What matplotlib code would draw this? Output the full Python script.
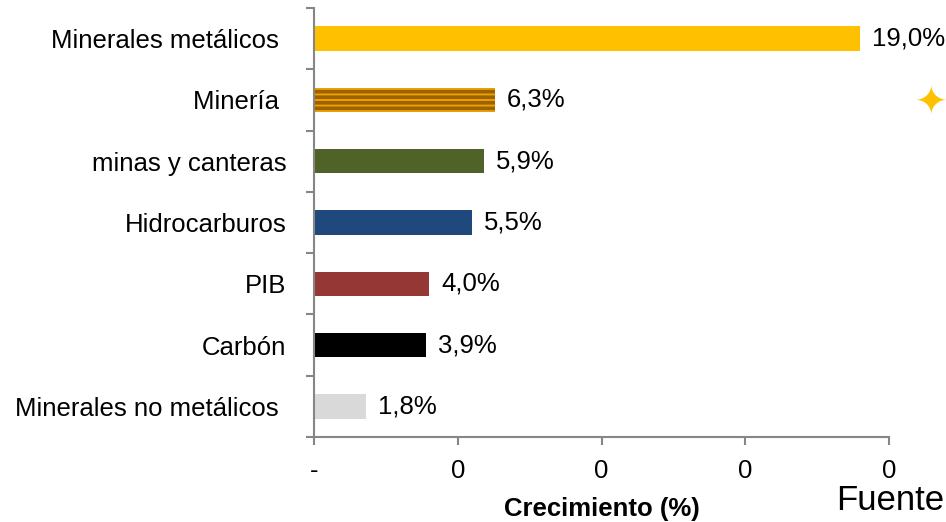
import numpy as np
import matplotlib.pyplot as plt

# datos
categorias = ['Minerales metálicos ', 'Minería ', 'minas y canteras', 'Hidrocarburos',
              'PIB', 'Carbón', 'Minerales no metálicos ']
valores = [19.0, 6.3, 5.9, 5.5, 4.0, 3.9, 1.8]
etiquetas = ['19,0%', '6,3%', '5,9%', '5,5%', '4,0%', '3,9%', '1,8%']
colores = ['#FFC000', '#EDA000', '#4F6228', '#1F497D', '#953735', '#000000', '#D9D9D9']
xticks = [0, 5, 10, 15, 20]
xtick_labels = ['-', '0', '0', '0', '0']

plt.rcParams['font.family'] = ['Liberation Sans', 'DejaVu Sans']
plt.rcParams['hatch.linewidth'] = 2.6

fig = plt.figure(figsize=(9.46, 5.22), dpi=100)
ax = fig.add_axes([314/946, 85/522, 575/946, 429/522])

y = np.arange(len(categorias))
bars = ax.barh(y, valores, height=0.4, color=colores, zorder=2, linewidth=0)
bars[1].set_hatch('---')
bars[1].set_edgecolor('#9A6200')

for yi, v, t in zip(y, valores, etiquetas):
    ax.text(v + 0.42, yi, t, va='center', ha='left', fontsize=18.5)

ax.set_ylim(len(categorias) - 0.5, -0.5)
ax.set_xlim(0, 20)
ax.set_xticks(xticks)
ax.set_xticklabels(xtick_labels, fontsize=18.5)
ax.set_yticks(y)
ax.set_yticklabels(categorias, fontsize=18.5)
ax.set_yticks(np.arange(-0.5, len(categorias)), minor=True)
ax.tick_params(axis='y', which='major', length=0, pad=20)
ax.tick_params(axis='y', which='minor', length=6, color='#868686', width=1.5)
ax.tick_params(axis='x', length=6, color='#868686', width=1.5, pad=10)

for s in ['top', 'right']:
    ax.spines[s].set_visible(False)
for s in ['left', 'bottom']:
    ax.spines[s].set_color('#868686')
    ax.spines[s].set_linewidth(1.5)

ax.set_xlabel('Crecimiento (%)', fontsize=18.5, fontweight='bold', labelpad=10)

fig.text(836/946, 1 - 500/522, 'Fuente', fontsize=25, ha='left', va='center')
fig.text(931/946, 1 - 103/522, '✦', fontsize=28, color='#FFC000', ha='center', va='center',
         family=['DejaVu Sans'])

fig.savefig('out.png', dpi=100)
